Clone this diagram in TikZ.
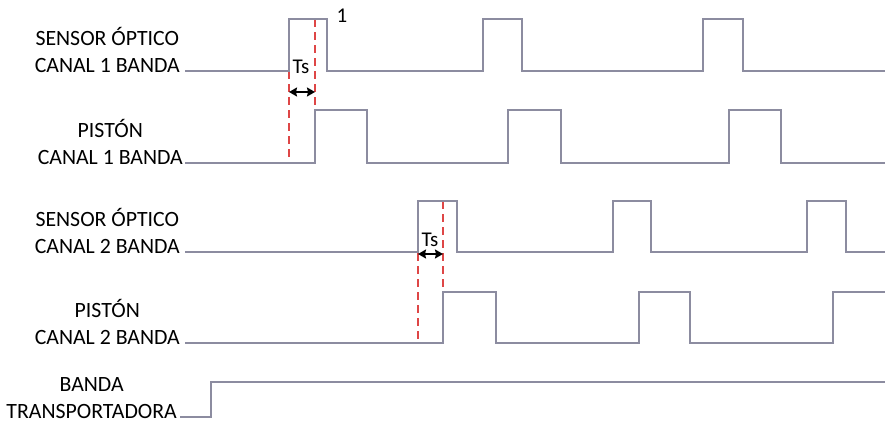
\documentclass[tikz,border=0pt]{standalone}
\usepackage{fontspec}
\setmainfont{Carlito}
\usetikzlibrary{arrows.meta}
\definecolor{sig}{RGB}{140,140,160}
\definecolor{mark}{RGB}{222,70,70}
\tikzset{
  wave/.style={draw=sig, line width=1.5pt},
  marker/.style={draw=mark, line width=1.3pt, dash pattern=on 8pt off 5pt},
  tsarrow/.style={black, line width=1.6pt, {Stealth[length=8pt,width=9pt,inset=1pt]}-{Stealth[length=8pt,width=9pt,inset=1pt]}},
  siglabel/.style={align=center, anchor=base east, inner sep=0pt, font=\fontsize{21.8}{26.5}\selectfont},
  tag/.style={inner sep=0pt, font=\fontsize{21}{24}\selectfont}
}
\begin{document}
\begin{tikzpicture}[x=1pt, y=-1pt]
  \useasboundingbox (0,0) rectangle (885,426);

  % signal labels
  \node[siglabel] (l1) at (180,72) {SENSOR ÓPTICO\\CANAL 1 BANDA};
  \node[siglabel] (l2) at (183,164) {PISTÓN\\CANAL 1 BANDA};
  \node[siglabel] (l3) at (180,253) {SENSOR ÓPTICO\\CANAL 2 BANDA};
  \node[siglabel] (l4) at (180,344) {PISTÓN\\CANAL 2 BANDA};
  \node[siglabel] (l5) at (177,418) {BANDA\\TRANSPORTADORA};

  % delay markers, channel 1 and channel 2
  \draw[marker] (289,19) -- (289,163);
  \draw[marker] (315,19) -- (315,163);
  \draw[marker] (418,201) -- (418,343);
  \draw[marker] (443,201) -- (443,343);

  % waveforms
  \draw[wave] (185,71) -| (289,19) -| (327,71) -| (483,19) -| (522,71)
              -| (703,19) -| (743,71) -- (885,71);
  \draw[wave] (185,163) -| (315,110) -| (367,163) -| (508,110) -| (561,163)
              -| (729,110) -| (781,163) -- (885,163);
  \draw[wave] (185,252) -| (418,201) -| (457,252) -| (613,201) -| (651,252)
              -| (807,201) -| (846,252) -- (885,252);
  \draw[wave] (185,343) -| (443,292) -| (496,343) -| (639,292) -| (690,343)
              -| (833,292) -- (885,292);
  \draw[wave] (180,417) -| (211,382) -- (885,382);

  % delay arrows and labels
  \coordinate (a1) at (289,92);
  \coordinate (b1) at (315,92);
  \draw[tsarrow] (a1) -- (b1);
  \node[tag] (ts1) at (301,67) {Ts};
  \coordinate (a2) at (418,254);
  \coordinate (b2) at (443,254);
  \draw[tsarrow] (a2) -- (b2);
  \node[tag] (ts2) at (430,240) {Ts};

  \node[tag] (one) at (342,16) {1};
\end{tikzpicture}
\end{document}
